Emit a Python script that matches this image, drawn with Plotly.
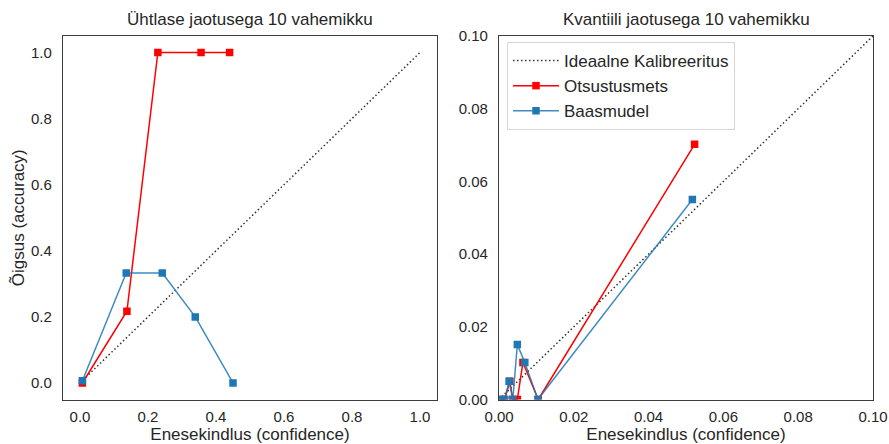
import plotly.graph_objects as go

# Reliability (calibration) curves: uniform-width bins vs. quantile bins
ideal = [0.0, 1.0]

# Uniform binning, 10 bins
uni_rf_conf = [0.007, 0.138, 0.229, 0.356, 0.440]
uni_rf_acc = [0.000, 0.217, 1.000, 1.000, 1.000]
uni_base_conf = [0.007, 0.136, 0.242, 0.339, 0.450]
uni_base_acc = [0.007, 0.333, 0.333, 0.200, 0.000]

# Quantile binning, 10 bins
q_rf_conf = [0.0005, 0.0015, 0.0029, 0.0037, 0.0049, 0.0064, 0.0105, 0.0523]
q_rf_acc = [0.0, 0.0, 0.0050, 0.0, 0.0, 0.0102, 0.0, 0.0702]
q_base_conf = [0.0005, 0.0015, 0.0027, 0.0037, 0.0049, 0.0069, 0.0104, 0.0517]
q_base_acc = [0.0, 0.0, 0.0050, 0.0, 0.0151, 0.0102, 0.0, 0.0550]

titles = ["Ühtlase jaotusega 10 vahemikku", "Kvantiili jaotusega 10 vahemikku"]
x_label = "Enesekindlus (confidence)"
y_label = "Õigsus (accuracy)"
names = ["Ideaalne Kalibreeritus", "Otsustusmets", "Baasmudel"]

uni_ticks = [0.0, 0.2, 0.4, 0.6, 0.8, 1.0]
q_ticks = [0.00, 0.02, 0.04, 0.06, 0.08, 0.10]

RED = "#ff0000"
BLUE = "#1f77b4"
INK = "#262626"
FONT = "Liberation Sans, Arial, sans-serif"
BIG = 17
TICK = 15

W, H = 889, 444
fig = go.Figure()

panels = [
    ("x", "y", uni_rf_conf, uni_rf_acc, uni_base_conf, uni_base_acc, False),
    ("x2", "y2", q_rf_conf, q_rf_acc, q_base_conf, q_base_acc, True),
]
for xa, ya, rc, ra, bc, ba, show in panels:
    fig.add_trace(go.Scatter(
        x=ideal, y=ideal, xaxis=xa, yaxis=ya, mode="lines", name=names[0],
        line=dict(color="#333333", width=1.5, dash="1.5px,2.5px"),
        showlegend=show, legendgroup="a"))
    fig.add_trace(go.Scatter(
        x=rc, y=ra, xaxis=xa, yaxis=ya, mode="lines+markers", name=names[1],
        line=dict(color=RED, width=1.5),
        marker=dict(symbol="square", size=7.5, color=RED),
        showlegend=show, legendgroup="b"))
    fig.add_trace(go.Scatter(
        x=bc, y=ba, xaxis=xa, yaxis=ya, mode="lines+markers", name=names[2],
        line=dict(color="rgba(31,119,180,0.85)", width=1.5),
        marker=dict(symbol="square", size=7.5, color=BLUE),
        showlegend=show, legendgroup="c"))

ydom = [(H - 399.5) / H, (H - 36) / H]
axis_common = dict(
    showline=True, mirror=True, linecolor="#3d3d3d", linewidth=1.2,
    showgrid=False, zeroline=False, ticks="outside",
    tickcolor="rgba(0,0,0,0)", tickfont=dict(size=TICK, color=INK, family=FONT),
    automargin=False,
)
x_common = dict(ticklen=3, **axis_common)
y_common = dict(ticklen=7, **axis_common)

fig.update_layout(
    width=W, height=H,
    margin=dict(l=0, r=0, t=0, b=0),
    paper_bgcolor="white", plot_bgcolor="white",
    font=dict(family=FONT, color=INK),
    xaxis=dict(domain=[63 / W, 437 / W], range=[-0.05, 1.05],
               tickvals=uni_ticks, ticktext=[f"{v:.1f}" for v in uni_ticks],
               title=dict(text=x_label, font=dict(size=BIG), standoff=2),
               anchor="y", **x_common),
    yaxis=dict(domain=ydom, range=[-0.05, 1.05],
               tickvals=uni_ticks, ticktext=[f"{v:.1f}" for v in uni_ticks],
               title=dict(text=y_label, font=dict(size=BIG), standoff=2),
               anchor="x", **y_common),
    xaxis2=dict(domain=[499 / W, 873 / W], range=[0, 0.1],
                tickvals=q_ticks, ticktext=[f"{v:.2f}" for v in q_ticks],
                title=dict(text=x_label, font=dict(size=BIG), standoff=2),
                anchor="y2", **x_common),
    yaxis2=dict(domain=ydom, range=[0, 0.1],
                tickvals=q_ticks, ticktext=[f"{v:.2f}" for v in q_ticks],
                anchor="x2", **y_common),
    legend=dict(
        x=507 / W, y=1 - 42 / H, xanchor="left", yanchor="top",
        bgcolor="white", bordercolor="#d6d6d6", borderwidth=1,
        font=dict(size=BIG, color=INK, family=FONT),
        traceorder="grouped", tracegroupgap=0, itemwidth=46,
    ),
    annotations=[
        dict(text=titles[0], x=250 / W, y=1 - 20 / H, xref="paper", yref="paper",
             xanchor="center", yanchor="middle", showarrow=False,
             font=dict(size=BIG, color=INK, family=FONT)),
        dict(text=titles[1], x=686 / W, y=1 - 20 / H, xref="paper", yref="paper",
             xanchor="center", yanchor="middle", showarrow=False,
             font=dict(size=BIG, color=INK, family=FONT)),
    ],
)

fig.write_html("out.html")
